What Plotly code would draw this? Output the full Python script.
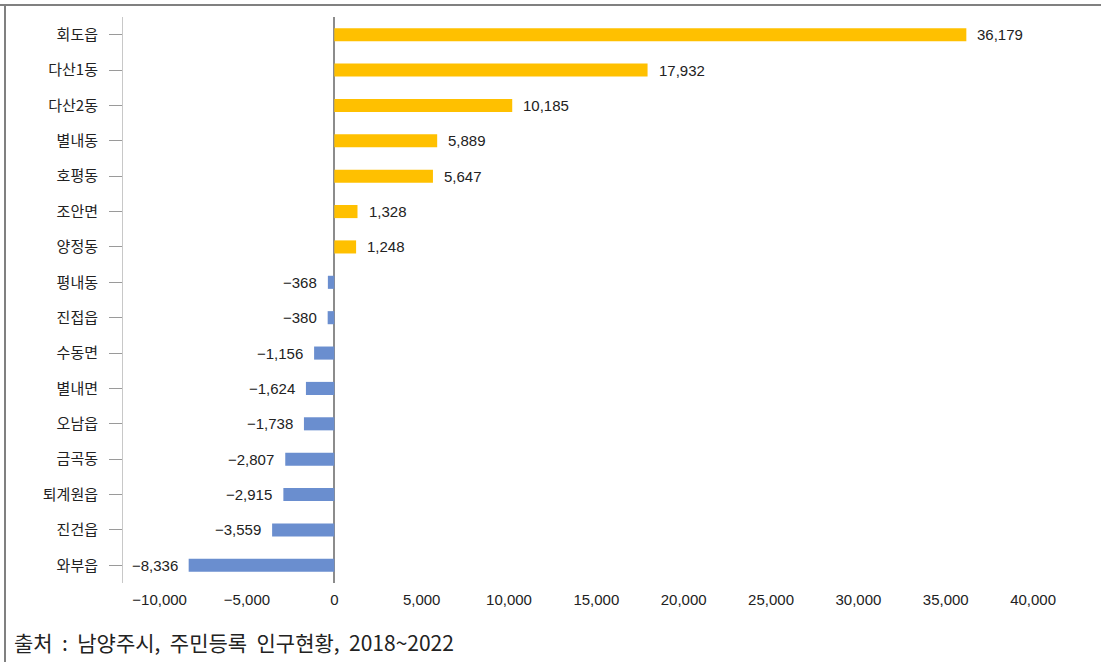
import plotly.graph_objects as go

categories = ["회도읍", "다산1동", "다산2동", "별내동", "호평동", "조안면", "양정동", "평내동",
              "진접읍", "수동면", "별내면", "오남읍", "금곡동", "퇴계원읍", "진건읍", "와부읍"]
values = [36179, 17932, 10185, 5889, 5647, 1328, 1248, -368,
          -380, -1156, -1624, -1738, -2807, -2915, -3559, -8336]
x_ticks = [-10000, -5000, 0, 5000, 10000, 15000, 20000, 25000, 30000, 35000, 40000]
source_text = "출처\u00a0\u00a0:\u00a0\u00a0남양주시,\u00a0\u00a0주민등록\u00a0\u00a0인구현황,\u00a0\u00a02018~2022"

POS_COLOR = "#FFC000"
NEG_COLOR = "#6A8ECF"
NUM_FONT = "Liberation Sans, Arial, sans-serif"
KR_FONT = "Noto Sans CJK KR, sans-serif"

PLOT_W = 937
PLOT_H = 566

def fmt(v):
    s = f"{abs(v):,}"
    return s if v >= 0 else "\u2212" + s

colors = [POS_COLOR if v >= 0 else NEG_COLOR for v in values]

fig = go.Figure()
fig.add_trace(go.Bar(
    x=values, y=categories, orientation="h",
    marker=dict(color=colors, line=dict(width=0)),
    width=0.37, hoverinfo="x+y",
))

for c, v in zip(categories, values):
    fig.add_annotation(
        x=v, y=c, xref="x", yref="y", text=fmt(v), showarrow=False,
        xanchor="left" if v >= 0 else "right",
        xshift=9 if v >= 0 else -9,
        font=dict(family=NUM_FONT, size=15, color="#222222"),
    )

fig.add_annotation(
    x=(12 - 123) / PLOT_W, xref="paper", y=-(642 - 583) / PLOT_H, yref="paper",
    text=source_text, showarrow=False, xanchor="left", yanchor="middle",
    font=dict(family=KR_FONT, size=21, color="#222222"),
)

fig.update_layout(
    width=1101, height=662,
    margin=dict(l=123, r=41, t=17, b=79),
    paper_bgcolor="white", plot_bgcolor="white",
    showlegend=False,
    xaxis=dict(
        range=[-12095, 41540],
        tickvals=x_ticks,
        ticktext=[fmt(t) for t in x_ticks],
        showgrid=False, zeroline=True, zerolinecolor="#8c8c8c", zerolinewidth=2,
        showline=False, ticks="",
        ticklabelstandoff=6,
        tickfont=dict(family=NUM_FONT, size=15, color="#222222"),
    ),
    yaxis=dict(
        categoryorder="array", categoryarray=categories,
        autorange="reversed",
        showgrid=False, zeroline=False,
        showline=True, linecolor="#c8c8c8", linewidth=1,
        ticks="outside", ticklen=13, tickcolor="#9a9a9a", tickwidth=1,
        ticklabelstandoff=8,
        tickfont=dict(family=KR_FONT, size=15, color="#222222"),
    ),
    shapes=[
        dict(type="line", xref="paper", yref="paper", x0=-123 / PLOT_W, x1=1.1,
             y0=1 + 12 / PLOT_H, y1=1 + 12 / PLOT_H, line=dict(color="#808080", width=2)),
        dict(type="line", xref="paper", yref="paper", x0=-118 / PLOT_W, x1=-118 / PLOT_W,
             y0=1 + 12 / PLOT_H, y1=-0.2, line=dict(color="#808080", width=2)),
    ],
)
fig.write_html("out.html")
